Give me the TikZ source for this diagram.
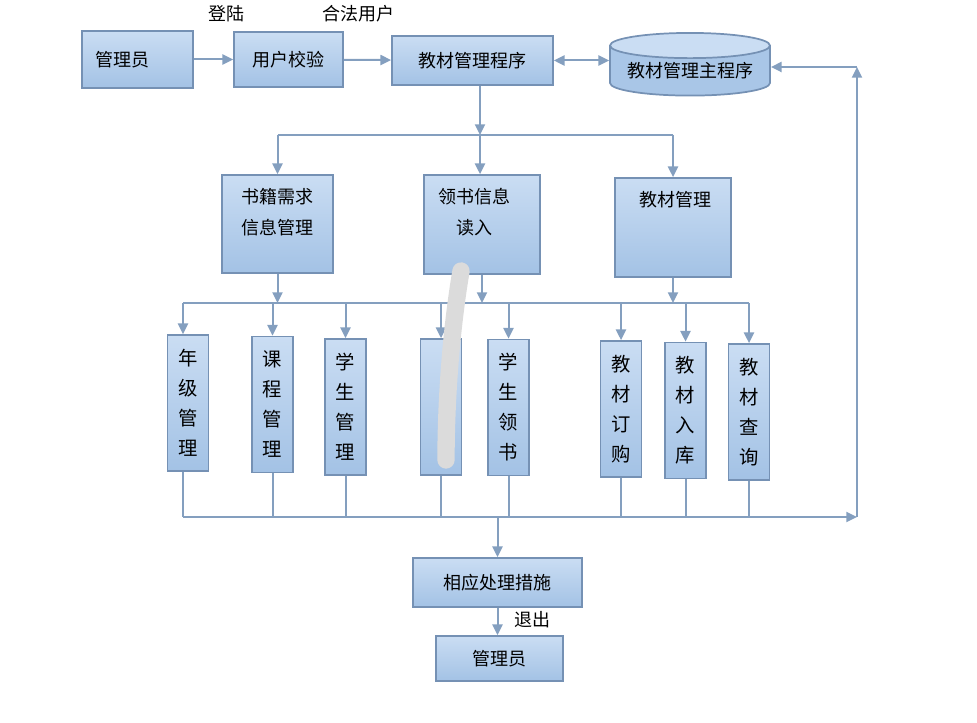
\documentclass[tikz,border=0pt]{standalone}
\usepackage{fontspec}
\newfontfamily\cjk{Noto Sans CJK SC}
\usetikzlibrary{arrows.meta,shapes.geometric}
\definecolor{boxtop}{HTML}{CADDF3}
\definecolor{boxbot}{HTML}{A3C2E5}
\definecolor{boxline}{HTML}{7591B4}
\definecolor{wirec}{HTML}{849FBF}

\begin{document}
\begin{tikzpicture}[x=0.75pt, y=-0.75pt,
    box/.style={draw=boxline, line width=1.3pt, top color=boxtop, bottom color=boxbot, inner sep=0pt},
    txt/.style={font=\cjk\fontsize{13.5}{23}\selectfont, align=center, inner sep=0pt},
    vbox/.style={box, vtxt, minimum width=30.75pt, minimum height=102pt},
    vtxt/.style={font=\cjk\fontsize{14.5}{22.5}\selectfont, align=center},
    wire/.style={draw=wirec, line width=1.5pt},
    arr/.style={wire, -{Triangle[width=7.5pt,length=8pt]}}]
    \useasboundingbox (0,0) rectangle (977,723);

    % top row
    \node[box, txt, minimum width=83.25pt, minimum height=42.75pt, text width=63pt, align=left] (admin) at (137.5,59.5) {管理员};
    \node[box, txt, minimum width=81.75pt, minimum height=41.25pt] (check) at (288.5,59.5) {用户校验};
    \node[box, txt, minimum width=120.75pt, minimum height=36.75pt] (prog) at (472.5,60.5) {教材管理程序};
    \node[cylinder, shape border rotate=90, aspect=0.2, draw=boxline, line width=1.3pt,
          cylinder uses custom fill, cylinder body fill=boxbot!85!boxtop, cylinder end fill=boxtop,
          minimum width=120pt, minimum height=47pt, txt] (main) at (690,71) {教材管理主程序};
    \node[txt] (login) at (226,14) {登陆};
    \node[txt] (legal) at (358,14) {合法用户};

    \draw[arr] (admin) -- (check);
    \draw[arr] (check) -- (prog);
    \draw[wire, {Triangle[width=7.5pt,length=8pt]}-{Triangle[width=7.5pt,length=8pt]}] (prog) -- (prog -| main.west);

    % second row
    \node[box, minimum width=83.25pt, minimum height=73.5pt] (need) at (277.5,224) {};
    \node[txt] (needlbl) at (277,212) {书籍需求\\信息管理};
    \node[box, minimum width=87pt, minimum height=74.25pt] (readin) at (482,224.5) {};
    \node[txt] (readinlbl) at (474,212) {领书信息\\读入};
    \node[box, minimum width=87pt, minimum height=74.25pt] (book) at (673,227.5) {};
    \node[txt] (booklbl) at (675,200) {教材管理};

    \coordinate (top) at (480,135);
    \draw[arr] (prog.south -| top) -- (top);
    \draw[wire] (need.north |- top) -- (book.north |- top);
    \draw[arr] (need.north |- top) -- (need.north);
    \draw[arr] (top) -- (readin.north -| top);
    \draw[arr] (book.north |- top) -- (book.north);

    % third row
    \node[vbox] (b1) at (188,403) {年\\级\\管\\理};
    \node[vbox] (b2) at (272.5,404.5) {课\\程\\管\\理};
    \node[vbox] (b3) at (345.5,407) {学\\生\\管\\理};
    \node[vbox] (b4) at (441,407) {};
    \node[vbox] (b5) at (508.5,407.5) {学\\生\\领\\书};
    \node[vbox] (b6) at (621,409) {教\\材\\订\\购};
    \node[vbox] (b7) at (685.5,410.5) {教\\材\\入\\库};
    \node[vbox] (b8) at (749,412) {教\\材\\查\\询};

    \coordinate (mid) at (183,303);
    \coordinate (bl) at (183,517);
    \coordinate (br) at (857,517);
    \coordinate (tr) at (857,67);
    \draw[arr] (need.south) -- (need.south |- mid);
    \draw[arr] (readin.south) -- (readin.south |- mid);
    \draw[arr] (book.south) -- (book.south |- mid);
    \draw[wire] (mid) -- (b8.north |- mid);
    \draw[arr] (mid) -- (b1.north -| mid);
    \draw[wire] (b1.south -| bl) -- (bl);
    \foreach \b in {b2,b3,b4,b5,b6,b7,b8} {
        \draw[arr] (\b.north |- mid) -- (\b.north);
        \draw[wire] (\b.south) -- (\b.south |- bl);
    }

    % feedback and exit
    \draw[arr] (bl) -- (br);
    \draw[arr] (br) -- (tr);
    \draw[arr] (tr) -- (main.east |- tr);

    \node[box, txt, minimum width=126.75pt, minimum height=36.75pt] (deal) at (497.5,582.5) {相应处理措施};
    \node[box, txt, minimum width=95.25pt, minimum height=33.75pt] (admin2) at (499.5,658.5) {管理员};
    \draw[arr] (deal.north |- bl) -- (deal.north);
    \draw[arr] (deal.south) -- (deal.south |- admin2.north);
    \node[txt] (quit) at (532,620) {退出};

    \draw[line width=13pt, line cap=round, color=black!14] (461,271) .. controls (451,330) and (446,400) .. (446,460);
\end{tikzpicture}
\end{document}
